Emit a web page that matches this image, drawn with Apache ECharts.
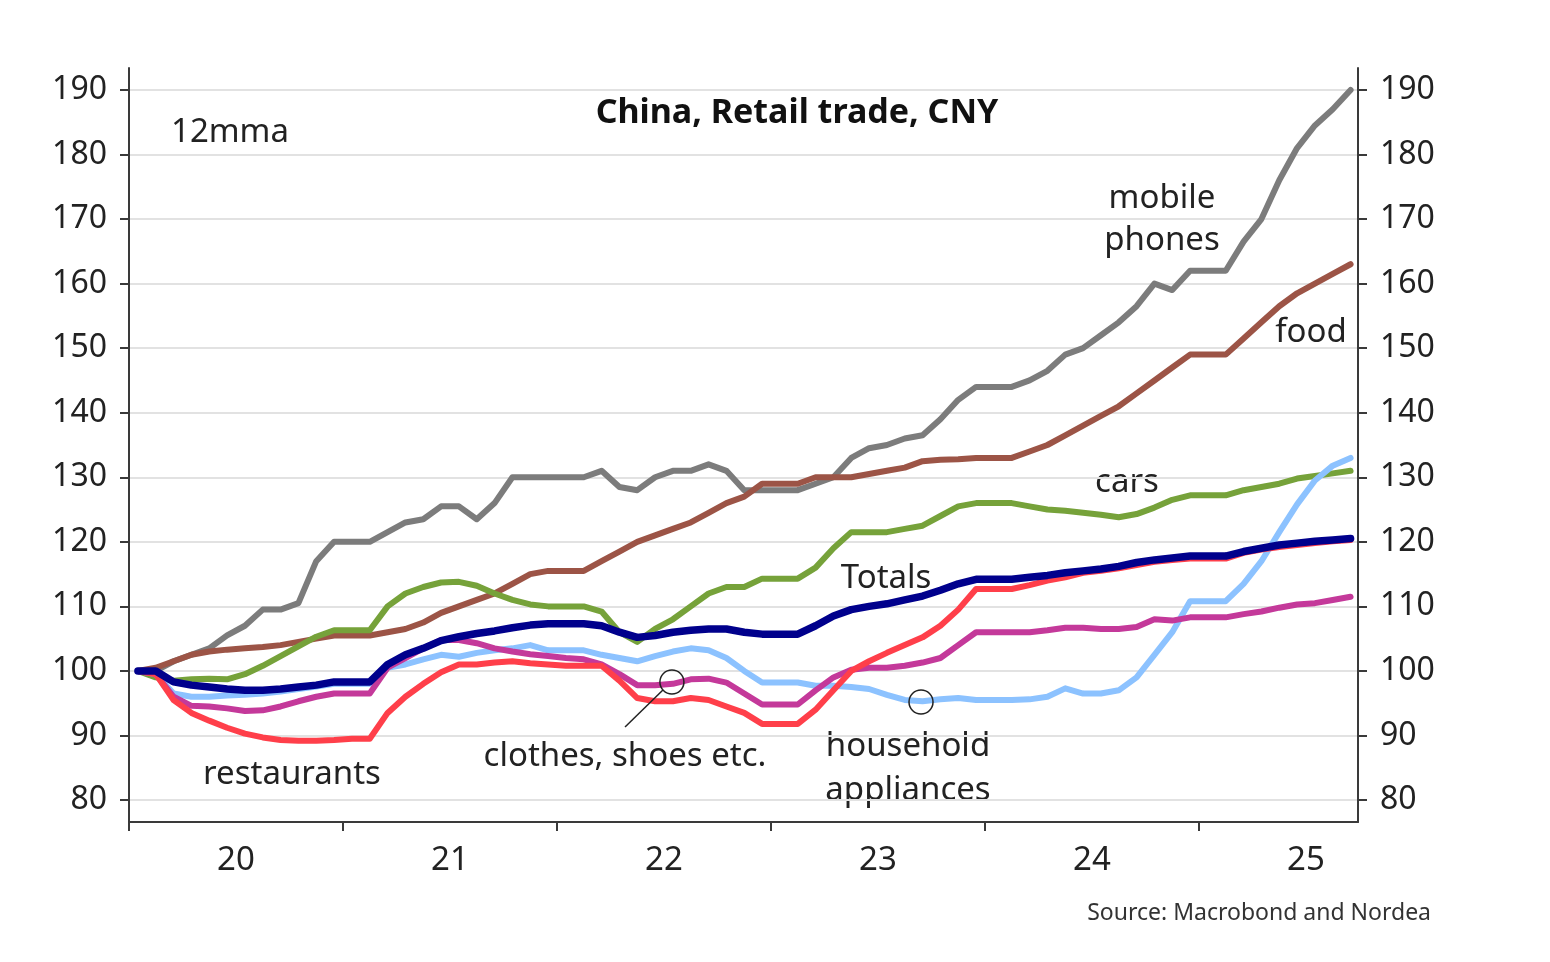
<!DOCTYPE html>
<html>
<head>
<meta charset="utf-8">
<script src="https://cdn.jsdelivr.net/npm/echarts@6/dist/echarts.min.js"></script>
<style>
html,body{margin:0;padding:0;background:#fff;}
#chart{width:1550px;height:962px;}
</style>
</head>
<body>
<div id="chart"></div>
<script>
// Monthly observations Jan 2020 .. Sep 2025 (12mma index, Jan 2020 = 100)
const startYear = 2020;
const nMonths = 69;
const months = [];
for (let i = 0; i < nMonths; i++) months.push(startYear + (i + 0.5) / 12);

const mobilePhones = [100,100,101.5,102.5,103.5,105.5,107,109.5,109.5,110.5,117,120,120,120,121.5,123,123.5,125.5,125.5,123.5,126,130,130,130,130,130,131,128.5,128,130,131,131,132,131,128,128,128,128,129,130,133,134.5,135,136,136.5,139,142,144,144,144,145,146.5,149,150,152,154,156.5,160,159,162,162,162,166.5,170,176,181,184.5,187,190];
const food = [100,100.5,101.5,102.5,103,103.3,103.5,103.7,104,104.5,105,105.5,105.5,105.5,106,106.5,107.5,109,110,111,112,113.5,115,115.5,115.5,115.5,117,118.5,120,121,122,123,124.5,126,127,129,129,129,130,130,130,130.5,131,131.5,132.5,132.7,132.8,133,133,133,134,135,136.5,138,139.5,141,143,145,147,149,149,149,151.5,154,156.5,158.5,160,161.5,163];
const cars = [100,99,98.5,98.7,98.8,98.7,99.5,100.8,102.3,103.8,105.3,106.3,106.3,106.3,110,112,113,113.7,113.8,113.2,112,111,110.3,110,110,110,109.2,106,104.5,106.5,108,110,112,113,113,114.3,114.3,114.3,116,119,121.5,121.5,121.5,122,122.5,124,125.5,126,126,126,125.5,125,124.8,124.5,124.2,123.8,124.3,125.3,126.5,127.2,127.2,127.2,128,128.5,129,129.8,130.2,130.6,131];
const totals = [100,100,98.3,97.8,97.5,97.2,97,97,97.2,97.5,97.8,98.3,98.3,98.3,101,102.5,103.5,104.7,105.3,105.8,106.2,106.7,107.1,107.3,107.3,107.3,107,106,105.2,105.5,106,106.3,106.5,106.5,106,105.7,105.7,105.7,107,108.5,109.5,110,110.4,111,111.6,112.5,113.5,114.2,114.2,114.2,114.5,114.8,115.2,115.5,115.8,116.2,116.8,117.2,117.5,117.8,117.8,117.8,118.5,119,119.5,119.8,120.1,120.3,120.5];
const restaurants = [100,99.5,95.5,93.5,92.3,91.2,90.3,89.7,89.3,89.2,89.2,89.3,89.5,89.5,93.5,96,98,99.8,101,101,101.3,101.5,101.2,101,100.8,100.8,100.8,98.5,95.8,95.3,95.3,95.8,95.5,94.5,93.5,91.8,91.8,91.8,94,97,100,101.5,102.8,104,105.2,107,109.5,112.7,112.7,112.7,113.3,114,114.5,115.2,115.5,115.9,116.4,116.9,117.2,117.4,117.4,117.4,118.3,118.8,119.2,119.5,119.8,120.1,120.3];
const clothes = [100,99.5,96,94.6,94.5,94.2,93.8,93.9,94.5,95.3,96,96.5,96.5,96.5,100.5,102,103.5,104.8,104.8,104.3,103.5,103,102.6,102.3,102,101.8,101,99.5,97.8,97.8,98,98.7,98.8,98.2,96.5,94.8,94.8,94.8,97,99,100.2,100.5,100.5,100.8,101.3,102,104,106,106,106,106,106.3,106.7,106.7,106.5,106.5,106.8,108,107.8,108.3,108.3,108.3,108.8,109.2,109.8,110.3,110.5,111,111.5];
const appliances = [100,99.5,96.5,96,96,96.2,96.3,96.5,96.8,97.2,97.6,98,98,98,100.5,101,101.8,102.5,102.2,102.8,103.2,103.5,104,103.2,103.2,103.2,102.5,102,101.5,102.3,103,103.5,103.2,102,100,98.2,98.2,98.2,97.7,97.7,97.5,97.2,96.3,95.5,95.3,95.6,95.8,95.5,95.5,95.5,95.6,96,97.3,96.5,96.5,97,99,102.5,106,110.8,110.8,110.8,113.5,117,121.5,125.8,129.5,131.8,133];

const yTicks = [80,90,100,110,120,130,140,150,160,170,180,190];
const xTicks = [2020,2021,2022,2023,2024,2025];
const xLabelPos = [2020.5,2021.5,2022.5,2023.5,2024.5,2025.5];

const FONT = '"Noto Sans", "Open Sans", sans-serif';
const pair = arr => arr.map((v, i) => [months[i], v]);

function lineSeries(name, data, color, width, extra) {
  return Object.assign({
    name: name, type: 'line', data: pair(data), symbol: 'none', showSymbol: false,
    lineStyle: { color: color, width: width, cap: 'round', join: 'round' },
    itemStyle: { color: color }, z: 2
  }, extra || {});
}

const chart = echarts.init(document.getElementById('chart'), null, { renderer: 'canvas' });

const yAxisCommon = {
  type: 'value', min: 76.6, max: 193.4,
  axisLine: { show: true, lineStyle: { color: '#3a3a3a', width: 2 } },
  axisTick: { show: true, customValues: yTicks, length: 9, lineStyle: { color: '#3a3a3a', width: 2 } },
  axisLabel: { customValues: yTicks, fontSize: 32, color: '#222', fontFamily: FONT, margin: 22, padding: [4, 0, 0, 0] }
};

function txt(text, x, y, size, extra) {
  return { type: 'text', style: Object.assign({ text: text, x: x, y: y + 2, textAlign: 'center', textVerticalAlign: 'middle',
    font: size + 'px ' + FONT, fill: '#222' }, extra || {}) };
}

chart.setOption({
  animation: false,
  backgroundColor: '#fff',
  grid: { left: 129, right: 192, top: 68, bottom: 140, containLabel: false },
  xAxis: {
    type: 'value', min: 2020, max: 2025.743,
    axisLine: { show: true, lineStyle: { color: '#3a3a3a', width: 2 } },
    axisTick: { show: true, customValues: xTicks, length: 9, lineStyle: { color: '#3a3a3a', width: 2 } },
    axisLabel: { customValues: xLabelPos, fontSize: 33, color: '#222', fontFamily: FONT, margin: 22,
      formatter: v => String(Math.floor(v) - 2000) },
    splitLine: { show: false }
  },
  yAxis: [
    Object.assign({}, yAxisCommon, { position: 'left',
      splitLine: { show: true, lineStyle: { color: '#e2e2e2', width: 2 } } }),
    Object.assign({}, yAxisCommon, { position: 'right', splitLine: { show: false } })
  ],
  series: [
    lineSeries('mobile phones', mobilePhones, '#7c7c7c', 6),
    lineSeries('food', food, '#9c5446', 6),
    lineSeries('cars', cars, '#76a23a', 6),
    lineSeries('household appliances', appliances, '#8cc2ff', 6, {
      markPoint: {
        symbol: 'circle', symbolSize: 24, silent: true,
        itemStyle: { color: 'rgba(0,0,0,0)', borderColor: '#222', borderWidth: 1.5 },
        label: { show: false },
        data: [{ coord: [2023.701, 95.18] }]
      }
    }),
    lineSeries('clothes, shoes etc.', clothes, '#c4399a', 6, {
      markPoint: {
        symbol: 'circle', symbolSize: 24, silent: true,
        itemStyle: { color: 'rgba(0,0,0,0)', borderColor: '#222', borderWidth: 1.5 },
        label: { show: false },
        data: [{ coord: [2022.537, 98.28] }]
      },
      markLine: {
        silent: true, symbol: ['none', 'none'],
        lineStyle: { color: '#222', width: 1.5, type: 'solid' },
        label: { show: false },
        data: [[{ coord: [2022.318, 91.31] }, { coord: [2022.495, 97.04] }]]
      }
    }),
    lineSeries('restaurants', restaurants, '#ff3f4a', 6),
    lineSeries('Totals', totals, '#00008c', 7.5, { z: 3 })
  ],
  graphic: [
    txt('China, Retail trade, CNY', 797, 111, 34, { font: 'bold 34px ' + FONT, fill: '#111' }),
    txt('12mma', 230, 131, 33),
    txt('mobile', 1162, 197, 33),
    txt('phones', 1162, 239, 33),
    txt('food', 1311, 331, 33),
    txt('cars', 1127, 481, 33),
    txt('Totals', 886, 577, 33),
    txt('restaurants', 292, 773, 33),
    txt('clothes, shoes etc.', 625, 755, 33),
    txt('household', 908, 745, 33),
    txt('appliances', 908, 789, 33),
    txt('Source: Macrobond and Nordea', 1431, 911, 23, { textAlign: 'right', fill: '#333' })
  ]
});
</script>
</body>
</html>
